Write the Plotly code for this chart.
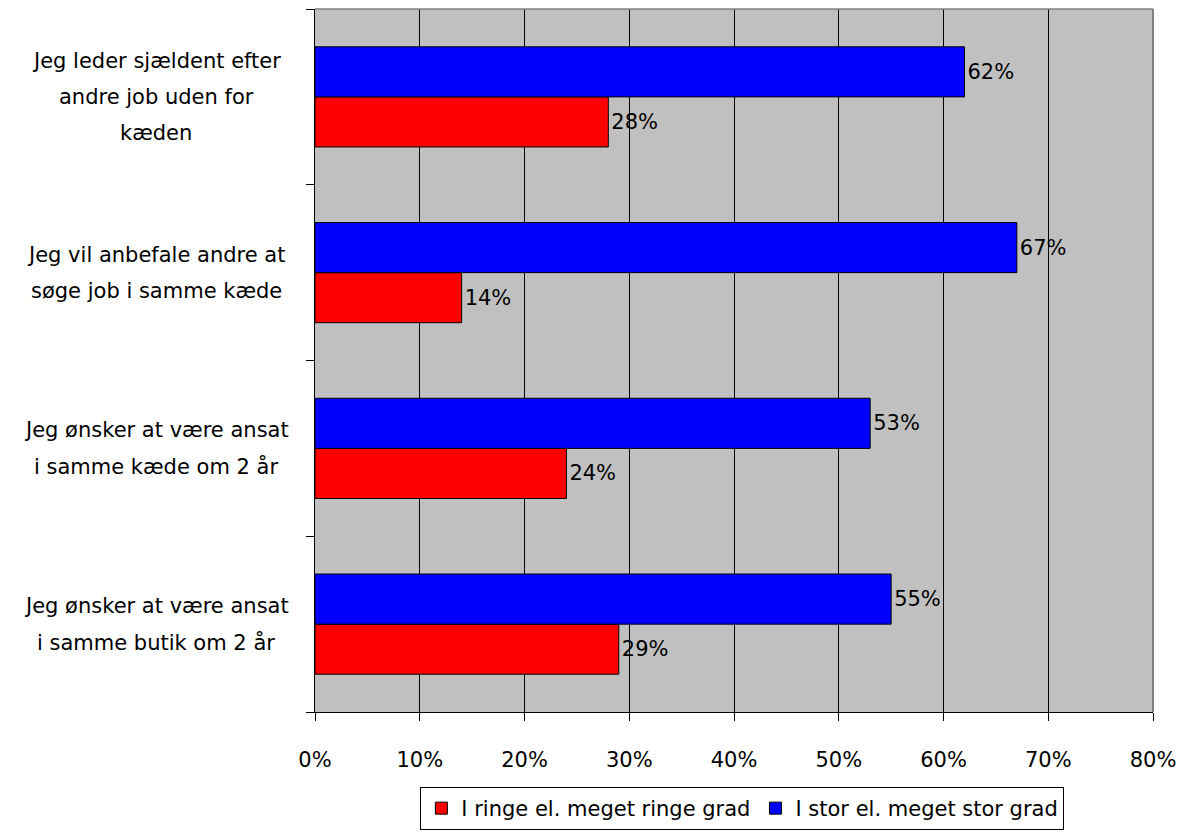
import plotly.graph_objects as go

# Survey statements (bottom to top on the category axis)
statements = [
    "Jeg ønsker at være ansat<br>i samme butik om 2 år",
    "Jeg ønsker at være ansat<br>i samme kæde om 2 år",
    "Jeg vil anbefale andre at<br>søge job i samme kæde",
    "Jeg leder sjældent efter<br>andre job uden for<br>kæden",
]
low_share = [29, 24, 14, 28]    # I ringe el. meget ringe grad
high_share = [55, 53, 67, 62]   # I stor el. meget stor grad
x_ticks = [0, 10, 20, 30, 40, 50, 60, 70, 80]
x_tick_labels = [f"{v}%" for v in x_ticks]

FONT = "DejaVu Sans"
SIZE = 21

fig = go.Figure()
fig.add_trace(go.Bar(
    y=statements, x=low_share, orientation="h",
    name="I ringe el. meget ringe grad",
    marker=dict(color="#FF0000", line=dict(color="black", width=1)),
    text=[f"{v}%" for v in low_share], textposition="outside",
    textfont=dict(family=FONT, size=SIZE, color="black"),
    constraintext="none", cliponaxis=False,
))
fig.add_trace(go.Bar(
    y=statements, x=high_share, orientation="h",
    name="I stor el. meget stor grad",
    marker=dict(color="#0000FF", line=dict(color="black", width=1)),
    text=[f"{v}%" for v in high_share], textposition="outside",
    textfont=dict(family=FONT, size=SIZE, color="black"),
    constraintext="none", cliponaxis=False,
))

# Category labels, one annotation per line for wider line spacing
annotations = []
line_gap = 36
for s in statements:
    lines = s.split("<br>")
    n = len(lines)
    for i, ln in enumerate(lines):
        annotations.append(dict(
            xref="paper", yref="y", x=0, y=s, text=ln,
            xanchor="center", yanchor="middle", showarrow=False,
            xshift=-159, yshift=((n - 1) / 2 - i) * line_gap,
            font=dict(family=FONT, size=SIZE, color="black"),
        ))

fig.update_layout(
    width=1184, height=835,
    margin=dict(l=315, r=31, t=9, b=123, autoexpand=False),
    paper_bgcolor="white", plot_bgcolor="#C0C0C0",
    barmode="group", bargap=0.43, bargroupgap=0,
    font=dict(family=FONT, size=SIZE, color="black"),
    annotations=annotations,
    legend=dict(
        orientation="h", xref="container", yref="container",
        x=0.627, xanchor="center", y=0.006, yanchor="bottom",
        bordercolor="black", borderwidth=1, bgcolor="white",
        font=dict(family=FONT, size=SIZE, color="black"),
        itemwidth=30, tracegroupgap=0,
    ),
    xaxis=dict(
        range=[0, 80], tickmode="array", tickvals=x_ticks, ticktext=x_tick_labels,
        showgrid=True, gridcolor="black", gridwidth=1, zeroline=False,
        showline=True, linecolor="black", linewidth=1,
        ticks="outside", ticklen=8, tickcolor="black",
        ticklabelstandoff=21,
        tickfont=dict(family=FONT, size=SIZE, color="black"),
    ),
    yaxis=dict(
        type="category", showticklabels=False, showgrid=False, zeroline=False,
        showline=True, linecolor="black", linewidth=1,
        ticks="outside", ticklen=8, tickcolor="black", tickson="boundaries",
    ),
    shapes=[
        dict(type="line", xref="paper", yref="paper", x0=0, x1=1, y0=1, y1=1,
             line=dict(color="#808080", width=1.5), layer="above"),
        dict(type="line", xref="paper", yref="paper", x0=1, x1=1, y0=0, y1=1,
             line=dict(color="#808080", width=2), layer="above"),
    ],
)

fig.write_html("out.html")
